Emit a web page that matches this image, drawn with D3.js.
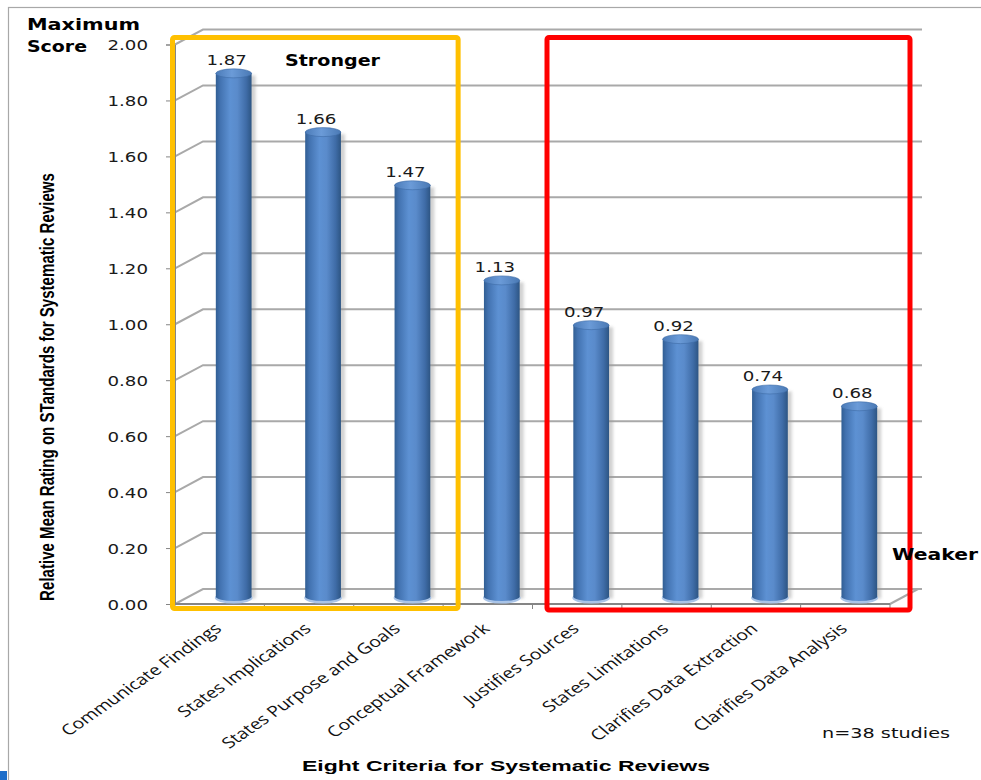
<!DOCTYPE html>
<html>
<head>
<meta charset="utf-8">
<script src="https://cdn.jsdelivr.net/npm/d3@7"></script>
<style>
  body { margin: 0; background: #ffffff; }
  svg { display: block; }
</style>
</head>
<body>
<svg id="chart" width="981" height="780"></svg>
<script>
// Criteria for systematic reviews and their mean ratings (max score 2.00)
const categories = [
  "Communicate Findings",
  "States Implications",
  "States Purpose and Goals",
  "Conceptual Framework",
  "Justifies Sources",
  "States Limitations",
  "Clarifies Data Extraction",
  "Clarifies Data Analysis"
];
const ratings = [1.87, 1.66, 1.47, 1.13, 0.97, 0.92, 0.74, 0.68];
const yTicks = [0, 0.2, 0.4, 0.6, 0.8, 1.0, 1.2, 1.4, 1.6, 1.8, 2.0];
const strongerGroup = ["Communicate Findings", "States Purpose and Goals"];
const weakerGroup = ["Justifies Sources", "Clarifies Data Analysis"];

const svg = d3.select("#chart");
const sx = 1.3; // horizontal text stretch used throughout the figure

// Front plane of the 3-D plot area and the depth offset of the back wall
const plotLeft = 175, plotRight = 890, plotBottom = 604, plotTop = 44.5;
const depthX = 28, depthY = -15;

const x = d3.scaleBand().domain(categories).range([plotLeft, plotRight]).padding(0);
const y = d3.scaleLinear().domain([0, 2]).range([plotBottom, plotTop]);

// Outer chart frame
svg.append("rect").attr("x", 0).attr("y", 771).attr("width", 7).attr("height", 9).attr("fill", "#1c6dc9");
svg.append("rect")
  .attr("x", 8.5).attr("y", 7.5).attr("width", 1000).attr("height", 800)
  .attr("fill", "none").attr("stroke", "#a8a8a8").attr("stroke-width", 1.2);

// Gradients for the cylinders
const defs = svg.append("defs");
const body = defs.append("linearGradient").attr("id", "cylBody").attr("x1", "0").attr("x2", "1").attr("y1", "0").attr("y2", "0");
[["0%", "#315e93"], ["12%", "#4272b0"], ["40%", "#5d91d3"], ["60%", "#5a8bcb"], ["85%", "#3f6ca7"], ["100%", "#2d5583"]]
  .forEach(([o, c]) => body.append("stop").attr("offset", o).attr("stop-color", c));
const cap = defs.append("linearGradient").attr("id", "cylTop").attr("x1", "0").attr("x2", "1").attr("y1", "0").attr("y2", "0");
[["0%", "#4b7bb8"], ["45%", "#6b9bd8"], ["100%", "#4a79b4"]]
  .forEach(([o, c]) => cap.append("stop").attr("offset", o).attr("stop-color", c));
defs.append("filter").attr("id", "soft").append("feGaussianBlur").attr("stdDeviation", 1.6);

// Back-wall gridlines, drawn with a diagonal across the side wall
const grid = svg.append("g");
grid.selectAll("path").data(yTicks).join("path")
  .attr("d", t => `M${plotLeft},${y(t)} L${plotLeft + depthX},${y(t) + depthY} L${plotRight + depthX + 4},${y(t) + depthY}`)
  .attr("fill", "none").attr("stroke", "#a9a9a9").attr("stroke-width", 2);

// Floor edges
svg.append("path")
  .attr("d", `M${plotRight},${plotBottom} L${plotRight + depthX},${plotBottom + depthY}`)
  .attr("fill", "none").attr("stroke", "#a9a9a9").attr("stroke-width", 2);
svg.append("line")
  .attr("x1", plotLeft).attr("x2", plotRight).attr("y1", plotBottom).attr("y2", plotBottom)
  .attr("stroke", "#858585").attr("stroke-width", 2);
svg.append("g").selectAll("line").data(d3.range(categories.length + 1)).join("line")
  .attr("x1", i => plotLeft + i * x.step()).attr("x2", i => plotLeft + i * x.step())
  .attr("y1", plotBottom).attr("y2", plotBottom + 5)
  .attr("stroke", "#858585").attr("stroke-width", 1);

// Value axis
const yAxis = svg.append("g").attr("transform", `translate(${plotLeft},0)`)
  .call(d3.axisLeft(y).tickValues(yTicks).tickFormat(d3.format(".2f")).tickSize(9));
yAxis.select(".domain").attr("stroke", "#858585");
yAxis.selectAll(".tick line").attr("stroke", "#858585");
yAxis.selectAll(".tick text")
  .attr("x", null).attr("dy", "0.36em")
  .attr("transform", `translate(-27,0) scale(${sx},1)`)
  .attr("text-anchor", "end")
  .style("font-family", "'DejaVu Sans', Verdana, sans-serif").style("font-size", "14px").attr("fill", "#1a1a1a");

// Cylinders
const barW = x.bandwidth() * 0.4;
const ry = 4.5;
const cx = c => x(c) + x.bandwidth() / 2 + depthX / 2;
const yb = y(0) + depthY / 2;
const topY = v => y(v) + depthY / 2;
const data = categories.map((c, i) => ({ c, v: ratings[i] }));

const bars = svg.append("g").selectAll("g").data(data).join("g");
bars.append("rect") // soft shadow on the wall
  .attr("x", d => cx(d.c) - barW / 2 + 4).attr("y", d => topY(d.v) + 2)
  .attr("width", barW).attr("height", d => yb - topY(d.v))
  .attr("fill", "#9a9a9a").attr("opacity", 0.45).attr("filter", "url(#soft)");
bars.append("ellipse") // light reflection on the floor
  .attr("cx", d => cx(d.c)).attr("cy", yb + 1.5)
  .attr("rx", barW / 2 + 1).attr("ry", ry + 1)
  .attr("fill", "#a9c4e8");
bars.append("path")
  .attr("d", d => {
    const x0 = cx(d.c) - barW / 2, x1 = cx(d.c) + barW / 2, t = topY(d.v);
    return `M${x0},${t} L${x0},${yb} A${barW / 2},${ry} 0 0 0 ${x1},${yb} L${x1},${t} Z`;
  })
  .attr("fill", "url(#cylBody)");
bars.append("ellipse")
  .attr("cx", d => cx(d.c)).attr("cy", d => topY(d.v))
  .attr("rx", barW / 2).attr("ry", ry)
  .attr("fill", "url(#cylTop)").attr("stroke", "#3e6ca6").attr("stroke-width", 0.6);

// Value labels
bars.append("text")
  .attr("transform", d => `translate(${cx(d.c) - 7},${topY(d.v) - 8}) scale(${sx},1)`)
  .attr("text-anchor", "middle")
  .style("font-family", "'DejaVu Sans', Verdana, sans-serif").style("font-size", "14px").attr("fill", "#1a1a1a")
  .text(d => d3.format(".2f")(d.v));

// Category labels
svg.append("g").selectAll("text").data(categories).join("text")
  .attr("transform", c => `translate(${x(c) + x.bandwidth() / 2 + 3},630) scale(${sx},1) rotate(-42)`)
  .attr("text-anchor", "end")
  .style("font-family", "'Open Sans', 'Noto Sans', sans-serif").style("font-size", "15px").attr("fill", "#111")
  .text(c => c);

// Group outlines: each spans its categories plus half the plot depth
const boxStyle = (sel, color) => sel.attr("fill", "none").attr("stroke", color).attr("stroke-width", 5).attr("rx", 2);
const strongLeft = x(strongerGroup[0]) - 2.5;
const strongRight = x(strongerGroup[1]) + x.bandwidth() + depthX / 2 + 1;
boxStyle(svg.append("rect")
  .attr("x", strongLeft).attr("y", 37.5)
  .attr("width", strongRight - strongLeft).attr("height", 571), "#ffc000");
const weakLeft = x(weakerGroup[0]) + depthX / 2 + 0.5;
const weakRight = x(weakerGroup[1]) + x.bandwidth() + 20;
boxStyle(svg.append("rect")
  .attr("x", weakLeft).attr("y", 37.5)
  .attr("width", weakRight - weakLeft).attr("height", 572.5), "#ff0000");

// Annotations and titles
const note = (txt, tx, ty, size, weight, len, family) => svg.append("text")
  .attr("x", tx).attr("y", ty)
  .style("font-family", family || "'DejaVu Sans', Verdana, sans-serif")
  .style("font-size", size + "px").style("font-weight", weight).attr("fill", "#000")
  .attr("textLength", len).attr("lengthAdjust", "spacingAndGlyphs")
  .text(txt);

note("Maximum", 27, 30, 16, "bold", 113);
note("Score", 27, 52, 16, "bold", 60);
note("Stronger", 285, 66, 16, "bold", 95);
note("Weaker", 892, 560, 16.5, "bold", 86);
note("n=38 studies", 822, 738, 14.5, "normal", 128).attr("fill", "#111");
note("Eight Criteria for Systematic Reviews", 302, 771, 15.5, "bold", 408, "'Liberation Sans', Arial, sans-serif");

// Vertical value-axis title: condensed along its run, full height across it
const yTitle = svg.append("text")
  .attr("text-anchor", "middle")
  .style("font-family", "'Liberation Sans', Arial, sans-serif")
  .style("font-size", "20px").style("font-weight", "bold").attr("fill", "#000")
  .text("Relative Mean Rating on STandards for Systematic Reviews");
const naturalLen = yTitle.node().getComputedTextLength();
yTitle.attr("transform", `translate(54,387) rotate(-90) scale(${428 / naturalLen},1)`);
</script>
</body>
</html>
